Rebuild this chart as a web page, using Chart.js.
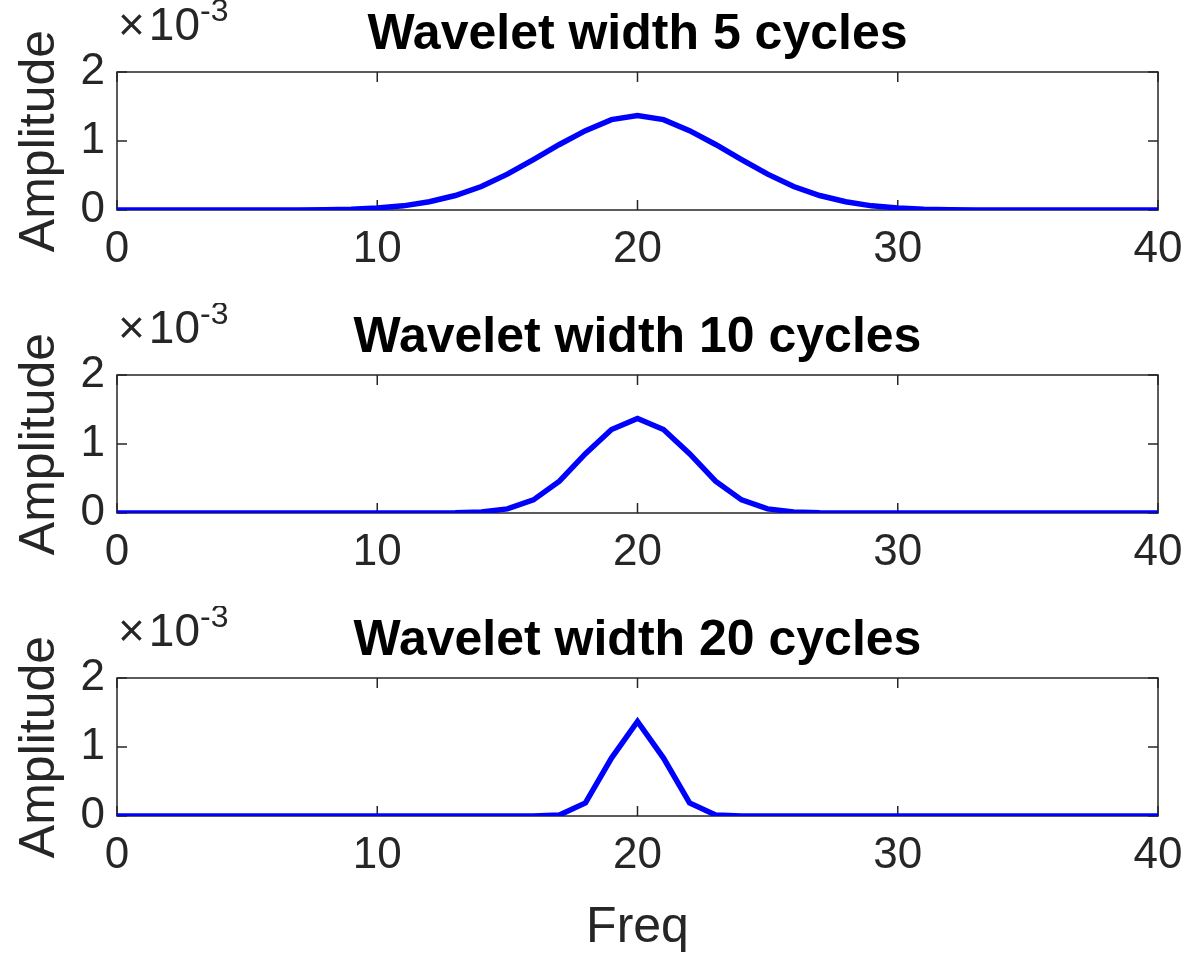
<!DOCTYPE html>
<html lang="en">
<head>
<meta charset="UTF-8" />
<title>Wavelet width comparison</title>
<script src="https://cdn.jsdelivr.net/npm/chart.js"></script>
<style>
  body { margin: 0; background: #ffffff; }
  #wrap { position: relative; width: 1186px; height: 953px; }
  canvas { position: absolute; left: 0; }
</style>
</head>
<body>
<div id="wrap">
  <canvas id="c5" width="1186" height="303" style="top:0px"></canvas>
  <canvas id="c10" width="1186" height="303" style="top:303px"></canvas>
  <canvas id="c20" width="1186" height="347" style="top:606px"></canvas>
</div>
<script>
// frequency bins (Hz)
const freq = [0, 1, 2, 3, 4, 5, 6, 7, 8, 9, 10, 11, 12, 13, 14, 15, 16, 17, 18, 19, 20,
              21, 22, 23, 24, 25, 26, 27, 28, 29, 30, 31, 32, 33, 34, 35, 36, 37, 38, 39, 40];

// wavelet spectrum amplitude, in units of 1e-3
const width5 = [0, 0, 0, 0, 0, 0, 0, 0, 0.005, 0.012, 0.03, 0.06, 0.12, 0.21, 0.34, 0.52, 0.73, 0.95, 1.15, 1.31, 1.37,
                1.31, 1.15, 0.95, 0.73, 0.52, 0.34, 0.21, 0.12, 0.06, 0.03, 0.012, 0.005, 0, 0, 0, 0, 0, 0, 0, 0];
const width10 = [0, 0, 0, 0, 0, 0, 0, 0, 0, 0, 0, 0, 0, 0.002, 0.015, 0.06, 0.19, 0.46, 0.86, 1.21, 1.37,
                 1.21, 0.86, 0.46, 0.19, 0.06, 0.015, 0.002, 0, 0, 0, 0, 0, 0, 0, 0, 0, 0, 0, 0, 0];
const width20 = [0, 0, 0, 0, 0, 0, 0, 0, 0, 0, 0, 0, 0, 0, 0, 0, 0, 0.015, 0.19, 0.84, 1.37,
                 0.84, 0.19, 0.015, 0, 0, 0, 0, 0, 0, 0, 0, 0, 0, 0, 0, 0, 0, 0, 0, 0];

const xTicks = [0, 10, 20, 30, 40];
const yTicks = [0, 1, 2];
const yScaleFactor = 1e-3;

const axisGray = '#262626';
const fontFamily = '"Liberation Sans", Arial, Helvetica, sans-serif';
const tickLen = 10;

// MATLAB-style box: frame on all four sides, inward ticks, exponent above the y axis
const axisBox = {
  id: 'axisBox',
  beforeDatasetsDraw(chart) {
    const { ctx, chartArea: a, scales: { x, y } } = chart;
    ctx.save();
    ctx.strokeStyle = axisGray;
    ctx.lineWidth = 1.5;
    ctx.strokeRect(a.left, a.top, a.right - a.left, a.bottom - a.top);
    ctx.beginPath();
    x.ticks.forEach(t => {
      const px = x.getPixelForValue(t.value);
      ctx.moveTo(px, a.bottom); ctx.lineTo(px, a.bottom - tickLen);
      ctx.moveTo(px, a.top); ctx.lineTo(px, a.top + tickLen);
    });
    y.ticks.forEach(t => {
      const py = y.getPixelForValue(t.value);
      ctx.moveTo(a.left, py); ctx.lineTo(a.left + tickLen, py);
      ctx.moveTo(a.right, py); ctx.lineTo(a.right - tickLen, py);
    });
    ctx.stroke();
    ctx.restore();
  },
  afterDraw(chart) {
    const { ctx, chartArea: a } = chart;
    ctx.save();
    ctx.fillStyle = axisGray;
    ctx.textBaseline = 'alphabetic';
    ctx.font = '46px ' + fontFamily;
    const base = a.top - 32;
    ctx.fillText('\u00d7', a.left + 1, base);
    const wx = ctx.measureText('\u00d7').width;
    ctx.fillText('10', a.left + 5 + wx, base);
    const w10 = ctx.measureText('10').width;
    ctx.font = '32px ' + fontFamily;
    ctx.fillText('-3', a.left + 5 + wx + w10, base - 19);
    ctx.restore();
  }
};

function makeChart(id, titleText, values, showFreq) {
  const canvas = document.getElementById(id);
  const axisHeight = canvas.height - 210;
  return new Chart(canvas, {
    type: 'line',
    data: {
      labels: freq,
      datasets: [{
        data: freq.map((f, i) => ({ x: f, y: values[i] * yScaleFactor })),
        borderColor: '#0000ff',
        borderWidth: 5.5,
        pointRadius: 0,
        tension: 0,
        fill: false
      }]
    },
    options: {
      responsive: false,
      animation: false,
      events: [],
      layout: { padding: { left: 0, right: 28, top: 0, bottom: 0 } },
      plugins: {
        legend: { display: false },
        tooltip: { enabled: false },
        title: {
          display: true,
          text: titleText,
          color: '#000000',
          fullSize: false,
          font: { family: fontFamily, size: 50, weight: 'bold', lineHeight: 1 },
          padding: { top: 10, bottom: 12 }
        }
      },
      scales: {
        x: {
          type: 'linear',
          min: 0,
          max: 40,
          afterBuildTicks: s => { s.ticks = xTicks.map(v => ({ value: v })); },
          afterFit: s => { s.height = axisHeight; s.paddingLeft = 0; s.paddingRight = 0; },
          grid: { display: false, drawTicks: false },
          border: { display: false },
          ticks: {
            color: axisGray,
            font: { family: fontFamily, size: 44 },
            padding: 13,
            maxRotation: 0,
            autoSkip: false,
            callback: v => String(v)
          },
          title: {
            display: showFreq,
            text: 'Freq',
            color: axisGray,
            font: { family: fontFamily, size: 50, lineHeight: 1 },
            padding: { top: 0, bottom: 0 }
          }
        },
        y: {
          min: 0,
          max: 2 * yScaleFactor,
          afterBuildTicks: s => { s.ticks = yTicks.map(v => ({ value: v * yScaleFactor })); },
          afterFit: s => { s.width = 117; },
          grid: { display: false, drawTicks: false },
          border: { display: false },
          ticks: {
            color: axisGray,
            font: { family: fontFamily, size: 44 },
            padding: 12,
            callback: v => String(Math.round(v / yScaleFactor))
          },
          title: {
            display: true,
            text: 'Amplitude',
            color: axisGray,
            font: { family: fontFamily, size: 50, lineHeight: 1 },
            padding: { top: 15, bottom: 0 }
          }
        }
      }
    },
    plugins: [axisBox]
  });
}

makeChart('c5', 'Wavelet width 5 cycles', width5, false);
makeChart('c10', 'Wavelet width 10 cycles', width10, false);
makeChart('c20', 'Wavelet width 20 cycles', width20, true);
</script>
</body>
</html>
